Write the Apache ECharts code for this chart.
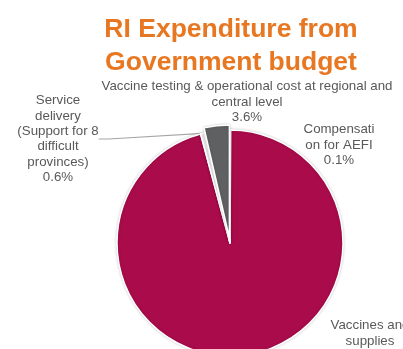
<!DOCTYPE html>
<html lang="en">
<head>
    <meta charset="UTF-8">
    <script type="text/javascript" src="https://cdn.jsdelivr.net/npm/echarts@6/dist/echarts.min.js"></script>
    <style>
        html, body { margin: 0; padding: 0; background: #fff; }
        #chart { width: 403px; height: 349px; }
    </style>
</head>
<body>
<div id="chart"></div>
<script>
    var categories = [
        'Compensati\non for AEFI',
        'Vaccines and\nsupplies',
        'Service\ndelivery\n(Support for 8\ndifficult\nprovinces)',
        'Vaccine testing & operational cost at regional and\ncentral level'
    ];
    var shares = [0.1, 95.7, 0.6, 3.6];
    var sliceColors = ['#e6e6e6', '#a90b4b', '#f2f2f2', '#5f6062'];
    var explodedIndex = 3;

    // where each label sits (pixel spots)
    var labelSpots = [
        {x: 339, y: 145},
        {x: 370, y: 341},
        {x: 58, y: 139},
        {x: 247, y: 102}
    ];

    var myChart = echarts.init(document.getElementById('chart'));

    // base pie carries every slice + labels, the exploded slice is left blank here
    var baseData = [];
    // second pie draws only the exploded slice, nudged out a bit
    var explodeData = [];
    for (var i = 0; i < shares.length; i++) {
        baseData.push({
            name: categories[i],
            value: shares[i],
            itemStyle: {
                color: i === explodedIndex ? 'rgba(0,0,0,0)' : sliceColors[i],
                shadowBlur: i === explodedIndex ? 0 : 3
            },
            labelLine: {show: i === 2}
        });
        explodeData.push({
            name: categories[i],
            value: shares[i],
            itemStyle: {
                color: i === explodedIndex ? sliceColors[i] : 'rgba(0,0,0,0)',
                borderColor: i === explodedIndex ? '#fff' : 'rgba(0,0,0,0)',
                shadowBlur: i === explodedIndex ? 3 : 0
            }
        });
    }

    myChart.setOption({
        backgroundColor: '#fff',
        title: {
            text: 'RI Expenditure from\nGovernment budget',
            left: 226,
            top: 8,
            textAlign: 'center',
            textStyle: {
                color: '#e87722',
                fontFamily: 'Liberation Sans, Arial, sans-serif',
                fontSize: 26.5,
                fontWeight: 'bold',
                lineHeight: 33
            }
        },
        series: [{
            type: 'pie',
            center: [230, 243],
            radius: 113,
            startAngle: 90,
            animation: false,
            silent: true,
            data: baseData,
            itemStyle: {
                borderColor: '#fff',
                borderWidth: 1.5,
                shadowColor: 'rgba(0,0,0,0.18)'
            },
            label: {
                show: true,
                formatter: function (p) {
                    return p.name + '\n' + p.value.toFixed(1) + '%';
                },
                color: '#595959',
                fontFamily: 'Liberation Sans, Arial, sans-serif',
                fontSize: 13.3,
                lineHeight: 15.3,
                align: 'center',
                overflow: 'none'
            },
            labelLine: {
                lineStyle: {color: '#a6a6a6', width: 1.2},
                length: 10,
                length2: 10
            },
            labelLayout: function (params) {
                var s = labelSpots[params.dataIndex];
                return {
                    x: s.x,
                    y: s.y,
                    align: 'center',
                    verticalAlign: 'middle'
                };
            }
        }, {
            type: 'pie',
            center: [229.4, 238],
            radius: 113,
            startAngle: 90,
            animation: false,
            silent: true,
            data: explodeData,
            itemStyle: {
                borderWidth: 1.5,
                shadowColor: 'rgba(0,0,0,0.18)'
            },
            label: {show: false},
            labelLine: {show: false}
        }]
    });
</script>
</body>
</html>
